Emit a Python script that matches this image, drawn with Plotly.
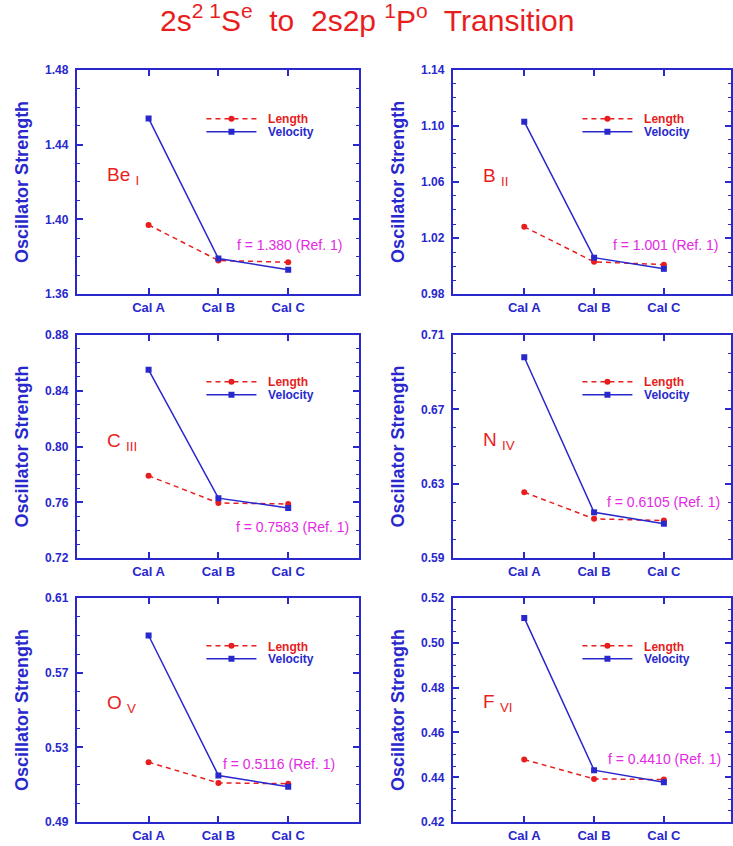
import plotly.graph_objects as go

# ---------------- data ----------------
categories = ["Cal A", "Cal B", "Cal C"]
ion_names = ["Be", "B", "C", "N", "O", "F"]
ion_stages = ["I", "II", "III", "IV", "V", "VI"]

length_be = [1.397, 1.378, 1.377]
velocity_be = [1.454, 1.379, 1.373]
length_b = [1.028, 1.003, 1.001]
velocity_b = [1.103, 1.006, 0.998]
length_c = [0.779, 0.7595, 0.7588]
velocity_c = [0.855, 0.763, 0.756]
length_n = [0.6254, 0.6111, 0.6102]
velocity_n = [0.698, 0.6146, 0.6085]
length_o = [0.5221, 0.5110, 0.5106]
velocity_o = [0.5899, 0.5150, 0.5090]
length_f = [0.4479, 0.4393, 0.4390]
velocity_f = [0.5111, 0.4432, 0.4378]

ref_values = ["1.380", "1.001", "0.7583", "0.6105", "0.5116", "0.4410"]

y_ranges = [[1.36, 1.48], [0.98, 1.14], [0.72, 0.88], [0.59, 0.71], [0.49, 0.61], [0.42, 0.52]]
y_dticks = [0.04, 0.04, 0.04, 0.04, 0.04, 0.02]
y_minor = [0.01, 0.01, 0.01, 0.01, 0.01, 0.005]

lengths = [length_be, length_b, length_c, length_n, length_o, length_f]
velocities = [velocity_be, velocity_b, velocity_c, velocity_n, velocity_o, velocity_f]

# ---------------- style ----------------
W, H = 733, 846
BLUE = "rgb(40,40,205)"
RED = "rgb(232,30,30)"
MAG = "rgb(228,40,228)"
FONT = "Liberation Sans, Arial, Helvetica, sans-serif"


def ty(p):
    # vertical pixel calibration
    return (p - 4.9) / 0.987


# panel boxes in pixels
col_px = [(77, 360), (454, 733)]
row_px = [(ty(68), ty(293)), (ty(334), ty(558)), (ty(598), ty(823))]
legend_rows = [118, 382, 647]
calA_px = [149, 525.7]
spacing_px = 70.0

# label placement (axis-data coordinates, x as category index)
ion_pos = [(-0.63, 1.423), (-0.62, 1.0639), (-0.63, 0.803), (-0.62, 0.6532), (-0.63, 0.553), (-0.62, 0.4733)]
ref_pos = [(2.8, 1.386), (2.8, 1.0148), (2.9, 0.7421), (2.83, 0.6202), (2.7, 0.5213), (2.84, 0.448)]

fig = go.Figure()
annotations = []
layout_axes = {}
legends = {}

for i in range(6):
    r, c = divmod(i, 2)
    n = i + 1
    xa = "x" if n == 1 else f"x{n}"
    ya = "y" if n == 1 else f"y{n}"
    left, right = col_px[c]
    top, bottom = row_px[r]
    x0 = (0 - (calA_px[c] - left) / spacing_px)
    x1 = x0 + (right - left) / spacing_px

    leg_len = "legend" if (2 * i + 1) == 1 else f"legend{2 * i + 1}"
    leg_vel = f"legend{2 * i + 2}"

    fig.add_trace(go.Scatter(
        x=categories, y=lengths[i], xaxis=xa, yaxis=ya,
        mode="lines+markers", name="\u00a0\u00a0Length",
        line=dict(color=RED, width=1.5, dash="5px,4px"),
        marker=dict(color=RED, size=6, symbol="circle"),
        legend=leg_len, showlegend=True,
    ))
    fig.add_trace(go.Scatter(
        x=categories, y=velocities[i], xaxis=xa, yaxis=ya,
        mode="lines+markers", name="\u00a0\u00a0Velocity",
        line=dict(color=BLUE, width=1.5),
        marker=dict(color=BLUE, size=6, symbol="square"),
        legend=leg_vel, showlegend=True,
    ))

    key_x = "xaxis" if n == 1 else f"xaxis{n}"
    key_y = "yaxis" if n == 1 else f"yaxis{n}"
    layout_axes[key_x] = dict(
        domain=[left / W, right / W], anchor=ya, type="category",
        categoryorder="array", categoryarray=categories,
        range=[x0, x1], showline=True, linewidth=2, linecolor=BLUE,
        mirror="ticks", ticks="inside", ticklen=6, tickwidth=1.5, tickcolor=BLUE,
        showgrid=False, zeroline=False,
        tickfont=dict(family=FONT, size=13, color=BLUE, weight="bold"),
    )
    layout_axes[key_y] = dict(
        domain=[1 - bottom / H, 1 - top / H], anchor=xa,
        range=y_ranges[i], tick0=y_ranges[i][0], dtick=y_dticks[i], tickformat=".2f",
        showline=True, linewidth=2, linecolor=BLUE,
        mirror="ticks", ticks="inside", ticklen=6, tickwidth=1.5, tickcolor=BLUE,
        minor=dict(dtick=y_minor[i], tick0=y_ranges[i][0], ticks="inside", ticklen=3,
                   tickwidth=1, tickcolor=BLUE, showgrid=False),
        showgrid=False, zeroline=False, ticklabelstandoff=4,
        tickfont=dict(family=FONT, size=12, color=BLUE, weight="bold"),
    )

    # legends: one item each
    line_start = left + 131
    y_len = legend_rows[r]
    for lk, yc, col in ((leg_len, y_len, RED), (leg_vel, y_len + 13, BLUE)):
        legends[lk] = dict(
            x=(line_start - 6) / W, y=1 - (ty(yc) - 15.7) / H, xanchor="left", yanchor="top",
            bgcolor="rgba(0,0,0,0)", borderwidth=0, itemwidth=50,
            font=dict(family=FONT, size=12, color=col, weight="bold"),
        )

    # y-axis title
    annotations.append(dict(
        text="Oscillator Strength", xref="paper", yref="paper",
        x=(left - 55) / W, y=1 - (top + bottom) / 2 / H, textangle=-90,
        showarrow=False, xanchor="center", yanchor="middle",
        font=dict(family=FONT, size=18, color=BLUE, weight="bold"),
    ))
    # ion label
    annotations.append(dict(
        text=f"{ion_names[i]} <sub>{ion_stages[i]}</sub>", xref=xa, yref=ya,
        x=ion_pos[i][0], y=ion_pos[i][1], showarrow=False, xanchor="left", yanchor="middle",
        font=dict(family=FONT, size=19, color=RED),
    ))
    # reference value
    annotations.append(dict(
        text=f"f = {ref_values[i]} (Ref. 1)", xref=xa, yref=ya,
        x=ref_pos[i][0], y=ref_pos[i][1], showarrow=False, xanchor="right", yanchor="middle",
        font=dict(family=FONT, size=14, color=MAG),
    ))

annotations.append(dict(
    text="2s<sup>2 1</sup>S<sup>e</sup>\u00a0 to \u00a02s2p <sup>1</sup>P<sup>o</sup>\u00a0 Transition",
    xref="paper", yref="paper", x=368 / W, y=1 - 11 / H, showarrow=False,
    xanchor="center", yanchor="middle",
    font=dict(family=FONT, size=30, color=RED),
))

fig.update_layout(
    width=W, height=H, autosize=False, margin=dict(l=0, r=0, t=0, b=0),
    paper_bgcolor="white", plot_bgcolor="white",
    annotations=annotations, showlegend=True,
    **layout_axes, **legends,
)

fig.write_html(
    "out.html",
    config={"displayModeBar": False},
    post_script="document.body.style.margin='0';document.body.style.overflow='hidden';",
)
